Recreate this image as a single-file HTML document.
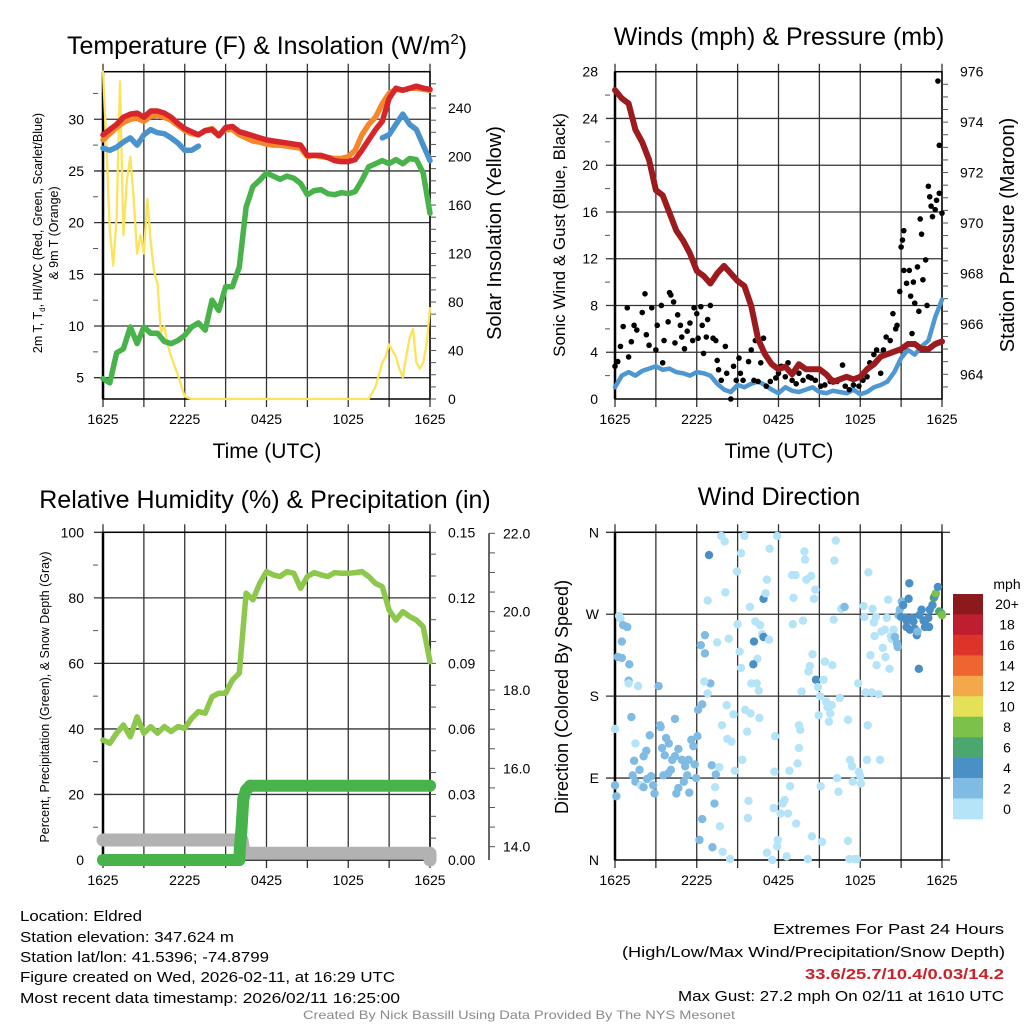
<!DOCTYPE html>
<html><head><meta charset="utf-8"><title>Eldred Meteogram</title>
<style>
html,body{margin:0;padding:0;background:#fff;}
svg{display:block;font-family:"Liberation Sans",Arial,sans-serif;}
</style></head>
<body>
<svg id="root" width="1024" height="1024" viewBox="0 0 1024 1024" xmlns="http://www.w3.org/2000/svg">
<rect x="0" y="0" width="1024" height="1024" fill="#fff"/>
<text x="267" y="54" font-size="25" text-anchor="middle">Temperature (F) &amp; Insolation (W/m<tspan font-size="15" dy="-10">2</tspan><tspan dy="10">)</tspan></text>
<text x="779" y="45" font-size="25" text-anchor="middle">Winds (mph) &amp; Pressure (mb)</text>
<text x="265" y="508" font-size="25" text-anchor="middle">Relative Humidity (%) &amp; Precipitation (in)</text>
<text x="779" y="505" font-size="25" text-anchor="middle">Wind Direction</text>
<text x="267" y="458" font-size="21" text-anchor="middle">Time (UTC)</text>
<text x="779" y="458" font-size="21" text-anchor="middle">Time (UTC)</text>
<text transform="translate(42,233) rotate(-90)" font-size="12.5" text-anchor="middle">2m T, T<tspan font-size="8" dy="3">d</tspan><tspan dy="-3">, HI/WC (Red, Green, Scarlet/Blue)</tspan></text>
<text transform="translate(58,233) rotate(-90)" font-size="12.5" text-anchor="middle">&amp; 9m T (Orange)</text>
<text transform="translate(501,233) rotate(-90)" font-size="20" text-anchor="middle">Solar Insolation (Yellow)</text>
<text transform="translate(565,235) rotate(-90)" font-size="17" text-anchor="middle">Sonic Wind &amp; Gust (Blue, Black)</text>
<text transform="translate(1014,235) rotate(-90)" font-size="20" text-anchor="middle">Station Pressure (Maroon)</text>
<text transform="translate(49,697) rotate(-90)" font-size="12.5" text-anchor="middle">Percent, Precipitation (Green), &amp; Snow Depth (Gray)</text>
<text transform="translate(568,697) rotate(-90)" font-size="18" text-anchor="middle">Direction (Colored By Speed)</text>
<g font-size="14.5">
<text x="20" y="921" textLength="122" lengthAdjust="spacingAndGlyphs">Location: Eldred</text>
<text x="20" y="942" textLength="214" lengthAdjust="spacingAndGlyphs">Station elevation: 347.624 m</text>
<text x="20" y="962" textLength="249" lengthAdjust="spacingAndGlyphs">Station lat/lon: 41.5396; -74.8799</text>
<text x="20" y="982" textLength="375" lengthAdjust="spacingAndGlyphs">Figure created on Wed, 2026-02-11, at 16:29 UTC</text>
<text x="20" y="1003" textLength="380" lengthAdjust="spacingAndGlyphs">Most recent data timestamp: 2026/02/11 16:25:00</text>
</g>
<g font-size="14.5" text-anchor="end">
<text x="1004" y="934" textLength="231" lengthAdjust="spacingAndGlyphs">Extremes For Past 24 Hours</text>
<text x="1005" y="957" textLength="383" lengthAdjust="spacingAndGlyphs">(High/Low/Max Wind/Precipitation/Snow Depth)</text>
<text x="1004" y="979" fill="#cc2127" font-weight="bold" textLength="199" lengthAdjust="spacingAndGlyphs">33.6/25.7/10.4/0.03/14.2</text>
<text x="1004" y="1001" textLength="326" lengthAdjust="spacingAndGlyphs">Max Gust: 27.2 mph On 02/11 at 1610 UTC</text>
</g>
<text x="519" y="1019" font-size="12" fill="#8a8a8a" text-anchor="middle" textLength="432" lengthAdjust="spacingAndGlyphs">Created By Nick Bassill Using Data Provided By The NYS Mesonet</text>
</svg>
<script>
// ---------- data ----------
const timeTickLabels = ["1625","2225","0425","1025","1625"];
const timeTickHours = [0,6,12,18,24];
const halfHours = [0,0.5,1,1.5,2,2.5,3,3.5,4,4.5,5,5.5,6,6.5,7,7.5,8,8.5,9,9.5,10,10.5,11,11.5,12,12.5,13,13.5,14,14.5,15,15.5,16,16.5,17,17.5,18,18.5,19,19.5,20,20.5,21,21.5,22,22.5,23,23.5,24];
const temp2m = [28.5,29,29.5,30.2,30.5,30.6,30.2,30.8,30.8,30.6,30.2,29.6,29.1,28.8,28.5,28.9,29.0,28.4,29.2,29.3,28.8,28.6,28.4,28.2,28.0,27.9,27.8,27.7,27.6,27.5,26.5,26.5,26.5,26.3,26.0,25.9,25.9,26.1,27.0,28.0,29.0,29.8,32.0,33.0,32.8,33.0,33.2,33.0,32.9];
const temp9m = [28.0,28.6,29.2,29.7,30.0,30.1,29.8,30.3,30.4,30.2,29.9,29.4,28.9,28.6,28.5,28.9,29.1,28.5,29.0,29.0,28.5,28.2,27.9,27.8,27.6,27.5,27.5,27.4,27.3,27.2,26.4,26.5,26.4,26.3,26.2,26.2,26.4,27.0,28.5,29.5,30.2,31.5,32.5,32.9,32.8,33.0,33.0,32.9,32.8];
const windChill = [27.2,27.0,27.3,27.8,28.2,27.5,28.5,29.0,28.7,28.6,28.2,27.7,27.0,27.0,27.4,null,null,null,null,null,null,null,null,null,null,null,null,null,null,null,null,null,null,null,null,null,null,null,null,null,null,28.2,28.5,29.5,30.5,29.5,29.0,27.5,26.0];
const dewPoint = [4.9,4.5,7.4,7.8,9.9,8.3,9.9,9.3,9.3,8.5,8.3,8.6,9.1,9.9,10.3,9.6,12.5,11.5,13.8,13.8,15.7,21.5,23.5,24.1,24.8,24.5,24.2,24.5,24.3,23.8,22.7,23.1,23.2,22.8,22.7,22.9,22.8,23.0,24.1,25.4,25.7,26.0,25.7,26.1,25.7,26.2,26.1,24.8,20.9];
const solarHours = [0,0.25,0.5,0.75,1,1.25,1.5,1.75,2,2.25,2.5,2.75,3,3.25,3.5,3.75,4,4.25,4.5,4.75,5,5.5,6,6.5,19.5,20,20.25,20.5,20.75,21,21.25,21.5,21.75,22,22.25,22.5,22.75,23,23.25,23.5,23.75,24];
const solarValues = [270,210,140,110,150,262,135,180,200,165,120,135,120,165,130,105,95,55,60,45,35,20,2,0,0,10,20,30,35,45,40,35,25,18,35,50,58,30,25,30,45,75];
const pressure = [975.27,974.94,974.74,973.7,973.2,972.5,971.3,971.1,970.4,969.7,969.3,968.8,968.1,967.9,967.6,968.0,968.3,968.0,967.7,967.5,966.7,965.4,964.8,964.4,964.2,964.3,964.0,964.4,964.2,964.2,964.2,964.0,963.7,963.8,963.9,963.8,963.9,964.2,964.4,964.7,964.8,964.9,965.0,965.2,965.2,965.0,965.0,965.2,965.3];
const windSpeed = [1.0,2.0,2.3,2.0,2.4,2.6,2.8,2.5,2.6,2.3,2.2,2.0,2.3,2.2,2.0,1.3,0.8,0.6,1.2,1.0,1.3,1.5,1.2,0.8,0.5,1.0,0.7,0.6,0.8,1.0,0.6,0.5,0.7,0.6,0.5,0.8,0.4,0.6,1.0,1.2,1.5,2.3,3.5,4.2,3.8,4.5,5.0,7.0,8.5];
const gustHours = [0,0.2,0.4,0.9,0.6,1,1.2,1.4,1.6,2.0,2.2,2.3,2.5,2.7,3.0,3.1,3.4,3.5,3.6,3.9,4.0,4.1,4.3,4.4,4.6,4.8,4.9,5.1,5.3,5.5,5.7,5.8,6.0,6.1,6.3,6.4,6.5,6.7,6.8,7.0,7.2,7.4,7.5,7.6,7.8,8.1,8.2,8.5,8.7,8.9,9.1,9.2,9.4,9.8,10.0,10.2,10.3,10.5,10.7,10.9,11.1,11.4,11.8,12.0,12.2,12.5,12.7,13.0,13.3,13.5,13.8,14.2,14.4,14.7,15.1,15.4,15.8,16.0,16.3,16.7,16.9,17.2,17.5,17.9,18.2,18.5,18.7,19.0,19.2,19.5,19.7,19.9,20.2,20.4,20.6,20.7,20.9,21.0,21.1,21.2,21.2,21.4,21.6,21.7,21.8,21.9,22.0,22.2,22.3,22.4,22.5,22.6,22.8,22.9,23.0,23.1,23.2,23.3,23.5,23.6,23.7,23.8,23.8,24.0];
const gustValues = [2.8,3.2,4.5,7.8,6.2,3.6,4.9,6.3,5.9,7.4,9.0,5.5,4.6,7.8,4.2,6.3,8.0,3.1,5.0,6.6,9.1,8.9,8.3,4.8,7.2,6.3,5.3,4.3,5.8,6.5,5.0,7.8,7.3,5.2,7.9,6.3,3.9,5.3,6.8,8.0,5.2,5.0,3.3,2.5,1.6,4.5,2.2,0,2.8,1.6,3.5,2.2,1.6,3.2,4.2,1.6,5.0,1.5,3.1,5.2,1.1,1.5,1.8,2.2,2.8,1.9,3.1,1.6,1.3,2.2,1.6,1.9,1.8,1.6,1.1,1.2,1.5,1.6,1.5,2.9,1.1,0.8,1.2,1.1,1.6,1.9,3.1,3.8,4.2,2.2,4.2,5.3,5.0,7.3,6.0,6.3,9.2,13.0,13.6,14.4,11.0,9.9,11.0,8.8,5.6,10.0,8.2,11.3,7.5,15.4,14.1,10.2,11.9,8.0,18.2,17.3,16.5,15.6,16.2,17.0,27.2,21.7,17.6,15.9];
const rhValues = [36.6,35.6,38.7,41.2,37.6,43.7,38.7,40.7,38.7,40.7,39.2,40.7,40.2,43.2,45.3,44.8,49.8,50.9,50.9,54.9,57.0,81.4,79.4,84.4,88.0,87.0,86.5,88.0,87.5,82.9,86.5,87.7,87.0,86.5,87.7,87.5,87.5,87.7,88.0,86.5,84.4,83.4,76.3,73.2,75.8,74.3,73.2,71.2,60.5];
const precipHours = [0,10.0,10.05,10.15,10.2,10.3,10.5,10.8,24];
const precipValues = [0,0,0.006,0.013,0.018,0.028,0.032,0.034,0.034];
const snowHours = [0,10.2,10.35,24,24];
const snowValues = [14.17,14.17,13.83,13.83,13.66];
const dirHours = [0,0,0.1,0.3,0.4,0.6,0.9,0.5,0.2,0.5,1.05,1.0,1.0,1.7,1.2,1.5,1.4,1.3,1.5,1.8,2.1,2.3,2.55,1.9,2.1,2.35,2.65,2.9,2.8,3.2,3.3,3.35,3.45,3.65,3.75,3.95,3.55,3.9,4.1,4.2,4.4,4.5,4.65,4.65,4.4,4.9,5.05,5.15,5.3,5.4,5.45,5.6,5.75,5.85,5.95,6.05,6.1,6.4,6.3,6.6,6.6,6.9,7.0,6.55,6.8,6.8,7.1,7.4,7.3,6.4,6.2,7.15,7.35,7.65,7.7,7.9,8.45,7.5,7.8,8.05,8.1,8.2,8.35,7.85,8.25,8.55,8.7,8.8,8.95,9.0,9.15,9.25,9.25,9.5,9.35,9.55,9.7,9.8,9.75,9.9,9.95,10.0,10.2,10.3,10.4,10.45,10.15,10.55,10.65,10.8,10.9,10.9,11.05,11.15,11.3,11.35,10.6,11.75,11.7,11.65,11.95,11.9,11.15,11.55,11.9,12.15,12.3,12.45,12.6,12.7,12.8,12.85,13.0,13.1,13.25,13.05,13.3,13.4,13.5,13.5,13.6,13.7,13.8,13.9,13.95,14.05,14.15,14.2,14.3,14.4,14.45,14.5,14.6,14.7,14.75,14.9,14.95,15.05,15.1,15.2,15.3,15.4,15.5,15.6,15.7,15.8,15.9,15.95,16.05,16.1,16.2,16.3,16.4,16.5,16.6,16.8,16.85,17.1,17.1,17.2,17.25,17.4,17.45,17.6,17.75,17.85,17.9,18.05,18.0,18.25,18.3,18.4,18.5,18.55,18.6,18.75,18.85,18.9,19.0,19.05,19.15,19.2,19.35,19.45,19.55,19.65,19.8,19.85,19.95,20.05,20.15,20.25,20.3,20.45,20.55,20.7,20.75,20.8,20.9,21.05,21.0,21.15,21.3,21.4,21.55,21.6,21.4,21.65,21.8,21.9,22.0,22.15,22.2,22.3,22.35,22.5,22.65,22.75,22.9,23.0,23.05,23.1,23.3,23.4,23.5,23.55,23.7,23.8,23.95,24.0];
const dirDegrees = [144,82,70,268,265,258,256,240,223,222,215,197,194,191,157,128,109,93,86,99,114,120,137,82,80,89,92,73,82,191,148,146,123,115,134,128,93,95,99,110,155,73,79,122,114,110,86,103,93,110,74,132,125,105,90,136,165,171,236,247,227,335,194,196,183,285,104,94,62,45,22,14,80,102,37,9,1,239,356,350,294,170,243,148,133,130,160,98,317,259,229,211,337,356,110,165,141,65,46,278,161,194,240,262,194,221,215,186,258,248,245,287,293,308,242,342,156,136,97,57,22,15,8,0,356,51,62,66,4,51,98,81,313,288,313,259,40,106,123,148,143,185,263,339,330,308,1,207,213,312,26,226,287,297,198,190,159,180,81,20,198,218,174,168,152,161,170,214,264,329,351,90,75,178,276,278,278,154,21,1,110,103,86,1,1,194,97,84,92,279,267,184,110,148,316,225,184,276,261,246,267,214,182,110,251,233,253,223,266,286,210,246,243,253,245,238,234,269,275,284,267,280,266,263,287,304,256,253,266,262,254,247,251,210,269,275,263,256,257,266,256,275,280,288,291,293,300,273,271,269];
const dirSpeeds = [1,3,3,1,1,3,3,3,3,3,3,3,1,1,3,1,3,3,3,3,3,3,3,1,3,3,3,3,3,3,3,3,3,3,3,3,3,3,3,3,3,3,3,3,3,3,3,3,3,3,3,3,3,3,3,3,3,3,3,3,3,5,3,1,1,1,3,3,3,3,3,3,1,1,1,1,1,1,1,1,1,1,1,1,1,1,1,1,1,1,1,1,1,1,1,1,1,1,1,1,1,1,5,1,1,1,5,1,1,1,5,5,1,1,1,1,1,1,1,1,1,1,1,1,1,1,1,1,1,1,1,1,1,1,1,1,1,1,1,1,1,1,1,1,1,1,1,1,1,1,1,1,1,1,5,1,1,1,1,1,1,1,1,1,1,1,1,1,1,1,1,1,1,1,1,1,3,1,1,1,1,1,1,1,1,1,1,1,1,1,1,1,1,1,1,1,1,1,1,1,1,1,1,1,1,1,1,1,1,1,1,1,1,1,3,3,3,3,3,3,5,5,5,5,5,5,5,5,5,5,5,5,3,5,5,5,5,5,5,5,5,5,5,7,5,9,5,7,7,9,10.5,5,7,7];
const cbLabels = ["20+","18","16","14","12","10","8","6","4","2","0"];
const cbColors = ["#8c1a1d","#be1e2d","#dd3429","#ee6530","#f5a84a","#e5e157","#7cc14a","#4aa76e","#4a8fc6","#80bbe4","#b5e3f7"];

// ---------- helpers ----------
const NS = "http://www.w3.org/2000/svg";
const root = document.getElementById("root");
function mk(tag, attrs, parent){ const e=document.createElementNS(NS,tag); for(const k in attrs) e.setAttribute(k,attrs[k]); (parent||root).appendChild(e); return e; }
function lin(d0,d1,r0,r1){ return v => r0 + (v-d0)/(d1-d0)*(r1-r0); }
const X0=103, X1=430, X0b=615, X1b=942;
const tx1 = lin(0,24,X0,X1), tx2 = lin(0,24,X0b,X1b);
const topY=71.7, botY=399, topY2=532.3, botY2=860;
const yTemp = lin(2.94,34.6,botY,topY);
const ySolar = lin(0,270,botY,topY);
const yWind = lin(0,28,botY,topY);
const yPres = lin(963.02,976,botY,topY);
const yRH = lin(0,100,botY2,topY2);
const yPrecip = lin(0,0.15,botY2,topY2);
const ySnow = lin(13.66,22,botY2,533.3);
const yDir = lin(0,360,botY2,topY2);

function frame(x0,x1,y0,y1,tx,name,hgrid){
  const g = mk("g",{});
  
  
  hgrid.forEach(y=>{ const l=mk("line",{x1:x0-9,x2:x1,y1:y,y2:y,stroke:"#333","stroke-width":1.3},g);
    
     });
  for(let h=0;h<=24;h+=3){ const x=tx(h); const l=mk("line",{x1:x,x2:x,y1:y0-8,y2:y1+8,stroke:"#333","stroke-width":1.3},g);
    
     }
  const r=mk("rect",{x:x0,y:y0,width:x1-x0,height:y1-y0,fill:"none",stroke:"#000","stroke-width":1.5},g);
  
  
  const lb=mk("line",{x1:x0,x2:x0,y1:y0,y2:y1,stroke:"#000","stroke-width":2.5},g);
  
  
}
function timeLabels(tx,y,name){
  timeTickHours.forEach((h,i)=>{ const t=mk("text",{x:tx(h),y:y,"font-size":14,"text-anchor":"middle"});
    t.textContent=timeTickLabels[i];
    
     });
}
function yLabels(vals,labels,ys,x,anchor,name,minor,minorX,dir){
  vals.forEach((v,i)=>{ const t=mk("text",{x:x,y:ys(v)+5,"font-size":14,"text-anchor":anchor}); t.textContent=labels[i];
    
     });
  if(minor) minor.forEach(v=>{ const y=ys(v); const l=mk("line",{x1:minorX,x2:minorX+dir,y1:y,y2:y,stroke:"#555","stroke-width":1});
    
     });
}
function path(xs,ys,tx,yf,attrs,name){
  let d="",pen=false;
  xs.forEach((h,i)=>{ const v=ys[i]; if(v===null||v===undefined){pen=false;return;} d+=(pen?"L":"M")+tx(h).toFixed(1)+","+yf(v).toFixed(1); pen=true; });
  const p=mk("path",Object.assign({d:d,fill:"none","stroke-linejoin":"round","stroke-linecap":"round"},attrs));
  
  
  return p;
}

// ---------- panel 1: temperature ----------
frame(X0,X1,topY,botY,tx1,"temperature",[5,10,15,20,25,30].map(yTemp));
timeLabels(tx1,424,"temperature");
yLabels([5,10,15,20,25,30],["5","10","15","20","25","30"],yTemp,84,"end","temperature-y",[7.5,12.5,17.5,22.5,27.5,32.5],X0-5,-5);
yLabels([0,40,80,120,160,200,240],["0","40","80","120","160","200","240"],ySolar,448,"start","solar-y",[10,20,30,50,60,70,90,100,110,130,140,150,170,180,190,210,220,230,250,260,0,40,80,120,160,200,240],X1,6);
path(solarHours,solarValues,tx1,ySolar,{stroke:"#fbe35a","stroke-width":2.3},"solar-insolation-line");
path(halfHours,temp9m,tx1,yTemp,{stroke:"#f6862a","stroke-width":5.5},"temp-9m-line");
path(halfHours,temp2m,tx1,yTemp,{stroke:"#d7262b","stroke-width":5.5},"temp-2m-line");
path(halfHours,windChill,tx1,yTemp,{stroke:"#4a92cc","stroke-width":5.5},"wind-chill-line");
path(halfHours,dewPoint,tx1,yTemp,{stroke:"#47b34a","stroke-width":5.5},"dewpoint-line");

// ---------- panel 2: winds ----------
frame(X0b,X1b,topY,botY,tx2,"winds",[4,8,12,16,20,24].map(yWind));
timeLabels(tx2,424,"winds");
yLabels([0,4,8,12,16,20,24,28],["0","4","8","12","16","20","24","28"],yWind,598,"end","wind-y",[2,6,10,14,18,22,26],X0b-5,-5);
yLabels([964,966,968,970,972,974,976],["964","966","968","970","972","974","976"],yPres,960,"start","pressure-y",[963.5,964,964.5,965,965.5,966,966.5,967,967.5,968,968.5,969,969.5,970,970.5,971,971.5,972,972.5,973,973.5,974,974.5,975,975.5],X1b,6);
path(halfHours,windSpeed,tx2,yWind,{stroke:"#4f97d2","stroke-width":4.5},"sonic-wind-line");
gustHours.forEach((h,i)=>{ const c=mk("circle",{cx:tx2(h),cy:yWind(gustValues[i]),r:2.8,fill:"#000"});
  
   });
path(halfHours,pressure,tx2,yPres,{stroke:"#9b1b1e","stroke-width":6},"pressure-line");

// ---------- panel 3: humidity ----------
frame(X0,X1,topY2,botY2,tx1,"humidity",[20,40,60,80,100].map(yRH));
timeLabels(tx1,885,"humidity");
yLabels([0,20,40,60,80,100],["0","20","40","60","80","100"],yRH,84,"end","rh-y",[10,30,50,70,90],X0-5,-5);
yLabels([0,0.03,0.06,0.09,0.12,0.15],["0.00","0.03","0.06","0.09","0.12","0.15"],yPrecip,448,"start","precip-y",[0,0.01,0.02,0.03,0.04,0.05,0.06,0.07,0.08,0.09,0.1,0.11,0.12,0.13,0.14,0.15],X1,6);
(function(){ const ax=mk("line",{x1:489,x2:489,y1:533.3,y2:botY2,stroke:"#333","stroke-width":1.5});
  
   })();
yLabels([14,16,18,20,22],["14.0","16.0","18.0","20.0","22.0"],ySnow,503,"start","snow-y",[14,14.5,15,15.5,16,16.5,17,17.5,18,18.5,19,19.5,20,20.5,21,21.5,22],489,6);
path(snowHours,snowValues,tx1,ySnow,{stroke:"#b2b2b2","stroke-width":13},"snow-depth-line");
path(precipHours,precipValues,tx1,yPrecip,{stroke:"#47b34a","stroke-width":12},"precipitation-line");
precipHours.forEach((h,i)=>{ const c=mk("circle",{cx:tx1(h),cy:yPrecip(precipValues[i]),r:6,fill:"#47b34a"});
  
   });
path(halfHours,rhValues,tx1,yRH,{stroke:"#8dc84c","stroke-width":5.5},"relative-humidity-line");

// ---------- panel 4: wind direction ----------
frame(X0b,X1b,topY2,botY2,tx2,"direction",[90,180,270,360].map(yDir));
(function(){ [90,180,270,360,0].forEach(v=>{ const l=mk("line",{x1:X1b,x2:950,y1:yDir(v),y2:yDir(v),stroke:"#333","stroke-width":1.3});
  
   }); })();
timeLabels(tx2,885,"direction");
yLabels([0,90,180,270,360],["N","E","S","W","N"],yDir,599,"end","direction-y",null);
function binColor(s){ const i=Math.min(10,Math.floor(s/2)); return cbColors[10-i]; }
dirHours.forEach((h,i)=>{ const c=mk("circle",{cx:tx2(h),cy:yDir(dirDegrees[i]),r:4.2,fill:binColor(dirSpeeds[i])});
  
   });
// colorbar
(function(){ const cy0=594, ch=225/11;
  const t=mk("text",{x:1007,y:589,"font-size":14,"text-anchor":"middle"}); t.textContent="mph";
  
  
  cbLabels.forEach((lab,i)=>{ const r=mk("rect",{x:953,y:cy0+i*ch,width:30,height:ch+0.3,fill:cbColors[i]});
    
    
    const tl=mk("text",{x:1007,y:cy0+i*ch+ch/2+5,"font-size":14,"text-anchor":"middle"}); tl.textContent=lab;
    
     });
})();
</script>
</body></html>
